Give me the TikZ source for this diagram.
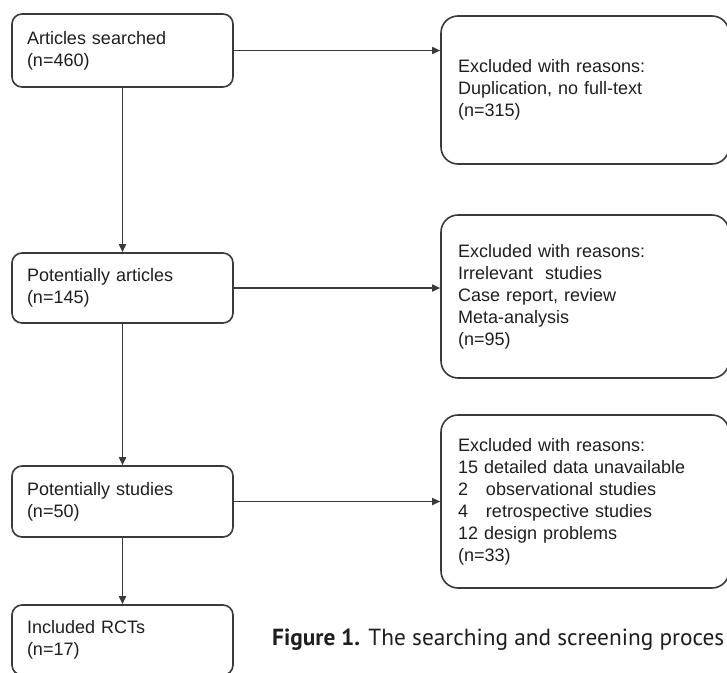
\documentclass[tikz,border=0pt]{standalone}
\usepackage{fontspec}
\setmainfont{Liberation Sans}
\newfontfamily\capfont{PT Sans}
\usetikzlibrary{arrows.meta}
\definecolor{linec}{HTML}{3A3A3A}
\definecolor{textc}{HTML}{1E1E1E}
\tikzset{
  lbox/.style={draw=linec, line width=1.6pt, rounded corners=10pt, text=textc,
    align=left, inner xsep=15pt, inner ysep=0pt, text width=191pt,
    minimum width=221pt, font=\fontsize{18}{22}\selectfont},
  rbox/.style={draw=linec, line width=1.6pt, rounded corners=17pt, text=textc,
    align=left, inner xsep=17pt, inner ysep=0pt, text width=254pt,
    minimum width=288pt, font=\fontsize{18}{22}\selectfont},
  arr/.style={draw=linec, line width=1.6pt, -{Triangle[length=8pt,width=7pt]}}
}
\begin{document}
\begin{tikzpicture}[x=1pt,y=-1pt]
\useasboundingbox (0,0) rectangle (727,672);
\node[lbox, minimum height=73pt] (a) at (122.5,50.5) {Articles searched\\(n=460)};
\node[lbox, minimum height=70pt] (b) at (122.5,288) {Potentially articles\\(n=145)};
\node[lbox, minimum height=71pt] (c) at (122.5,501.5) {Potentially studies\\(n=50)};
\node[lbox, minimum height=70pt] (d) at (122.5,640) {Included RCTs\\(n=17)};
\node[rbox, minimum height=148pt] (r1) at (585,90) {Excluded with reasons:\\Duplication, no full-text\\(n=315)};
\node[rbox, minimum height=163pt] (r2) at (585,296.5) {Excluded with reasons:\\Irrelevant\ \ studies\\Case report, review\\Meta-analysis\\(n=95)\\[6pt]};
\node[rbox, minimum height=173pt] (r3) at (585,501.5) {Excluded with reasons:\\15 detailed data unavailable\\2\ \ \ observational studies\\4\ \ \ retrospective studies\\12 design problems\\(n=33)};
\draw[arr] (a.south) -- (b.north);
\draw[arr] (b.south) -- (c.north);
\draw[arr] (c.south) -- (d.north);
\draw[arr] (a.east) -- (a.east -| r1.west);
\draw[arr] (b.east) -- (b.east -| r2.west);
\draw[arr] (c.east) -- (c.east -| r3.west);
\node[anchor=base west, inner sep=0pt, text=textc, font=\capfont\fontsize{23.3}{28}\selectfont] (cap) at (272,645) {\textbf{Figure 1.} The searching and screening proces};
\end{tikzpicture}
\end{document}
